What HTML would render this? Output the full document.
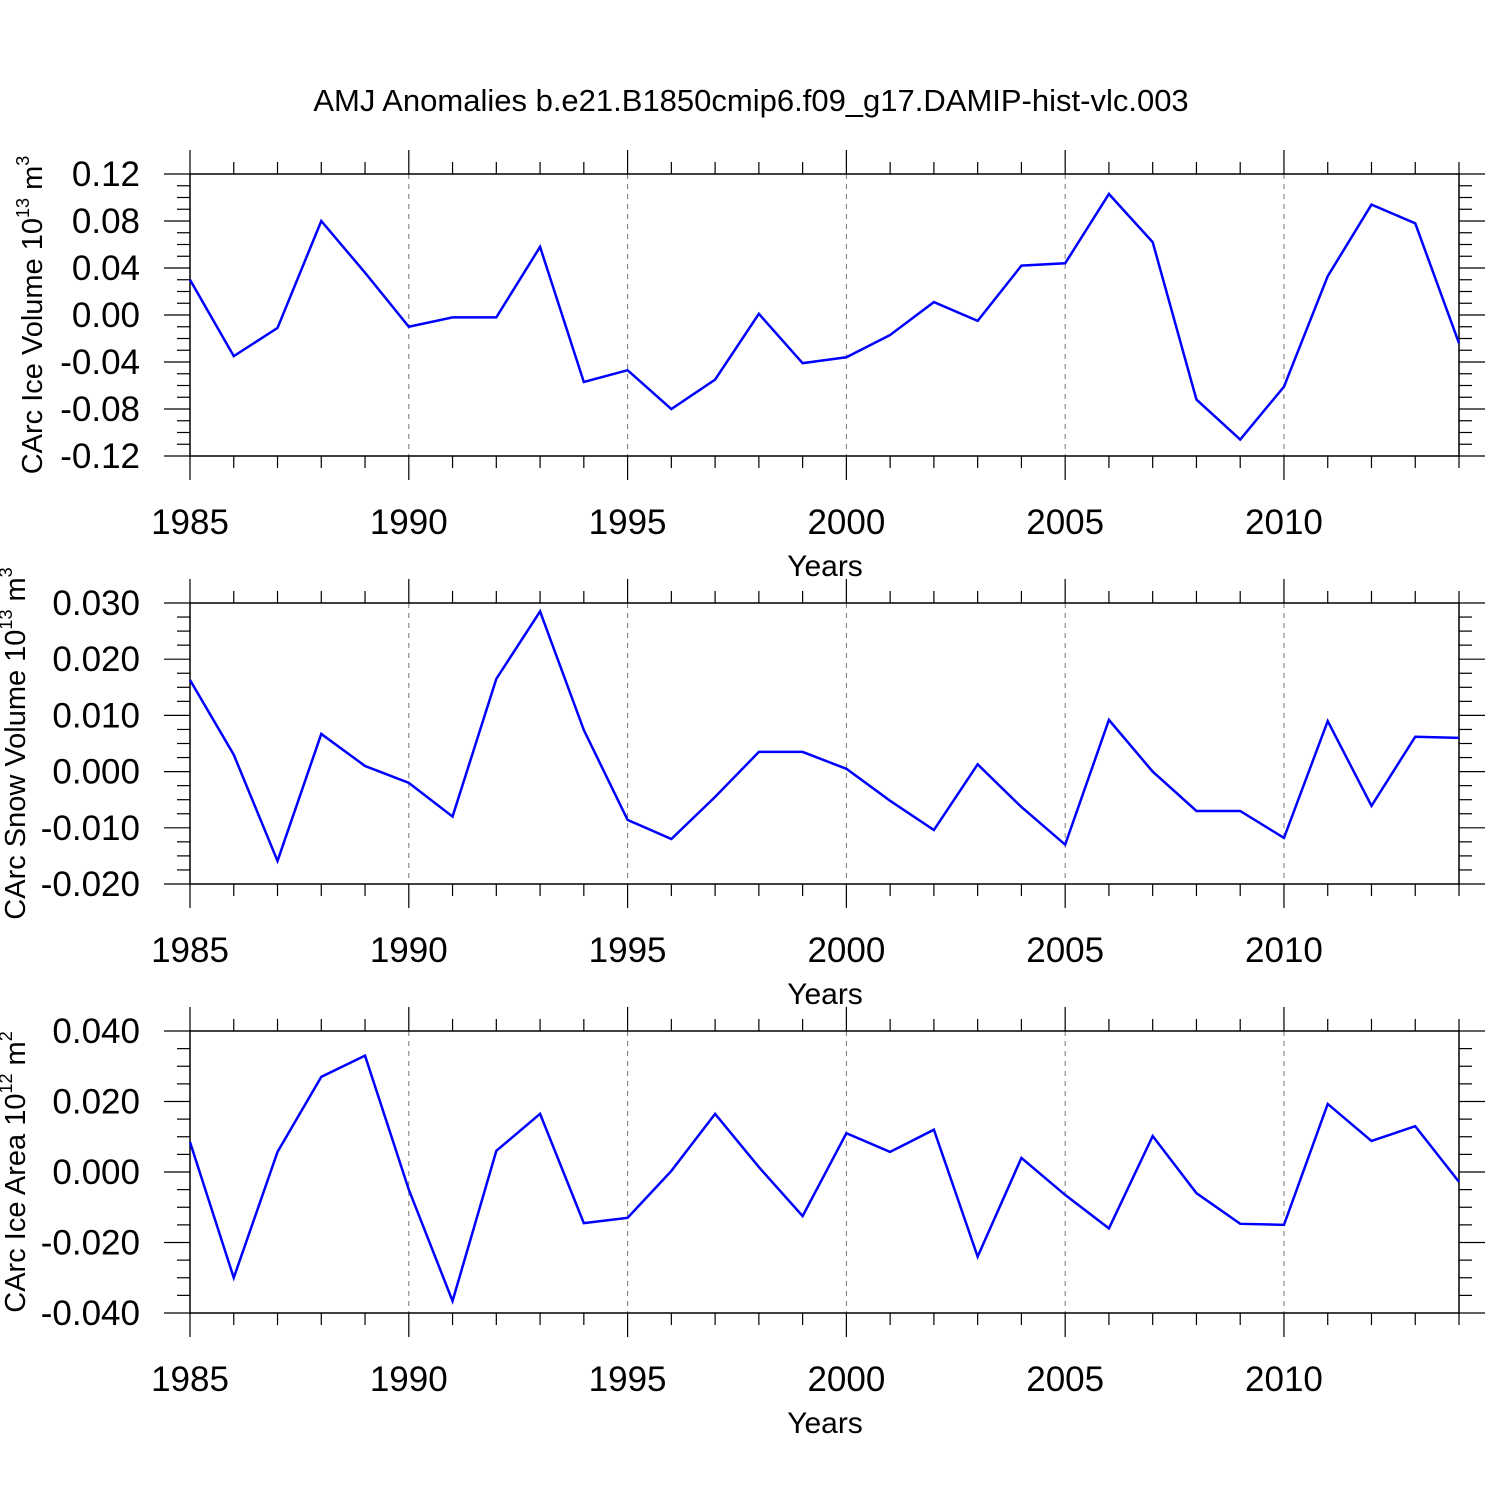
<!DOCTYPE html>
<html><head><meta charset="utf-8"><style>
html,body{margin:0;padding:0;background:#fff}
svg{display:block;font-family:"Liberation Sans",sans-serif}
</style></head><body>
<svg id="chart" width="1500" height="1500" viewBox="0 0 1500 1500" xmlns="http://www.w3.org/2000/svg">
<text x="751" y="111" font-size="31" text-anchor="middle">AMJ Anomalies b.e21.B1850cmip6.f09_g17.DAMIP-hist-vlc.003</text>
</svg>
<script>
const years = [1985,1986,1987,1988,1989,1990,1991,1992,1993,1994,1995,1996,1997,1998,1999,2000,2001,2002,2003,2004,2005,2006,2007,2008,2009,2010,2011,2012,2013,2014];
const iceVolume = [0.030,-0.035,-0.011,0.080,0.036,-0.010,-0.002,-0.002,0.058,-0.057,-0.047,-0.080,-0.055,0.001,-0.041,-0.036,-0.017,0.011,-0.005,0.042,0.044,0.103,0.062,-0.072,-0.106,-0.061,0.033,0.094,0.078,-0.024];
const snowVolume = [0.0163,0.003,-0.0159,0.0067,0.001,-0.002,-0.008,0.0165,0.0285,0.0074,-0.0086,-0.012,-0.0045,0.0035,0.0035,0.0005,-0.0052,-0.0104,0.0013,-0.0063,-0.013,0.0092,0.0,-0.007,-0.007,-0.0118,0.009,-0.0061,0.0062,0.006];
const iceArea = [0.0085,-0.030,0.0057,0.027,0.033,-0.005,-0.0366,0.006,0.0165,-0.0145,-0.013,0.0003,0.0165,0.0014,-0.0125,0.011,0.0057,0.012,-0.024,0.004,-0.0065,-0.016,0.0102,-0.006,-0.0147,-0.015,0.0193,0.0088,0.013,-0.0028];
const xTicks = [1985,1990,1995,2000,2005,2010];
const yTicks1 = ["0.12","0.08","0.04","0.00","-0.04","-0.08","-0.12"];
const yTicks2 = ["0.030","0.020","0.010","0.000","-0.010","-0.020"];
const yTicks3 = ["0.040","0.020","0.000","-0.020","-0.040"];

const NS = "http://www.w3.org/2000/svg";
const svg = document.getElementById('chart');
function mk(tag, attrs, parent){const e=document.createElementNS(NS,tag);for(const k in attrs)e.setAttribute(k,attrs[k]);(parent||svg).appendChild(e);return e;}

const X0=190, X1=1459, XMIN=1985, XMAX=2014;
function xs(v){return X0+(v-XMIN)/(XMAX-XMIN)*(X1-X0);}

function panel(name, top, bot, ymin, ymax, ticks, minorStep, vals, ytitleMain, exp, unitExp, titleX){
  const g = mk('g',{});
  
  
  const ys = v => bot-(v-ymin)/(ymax-ymin)*(bot-top);
  xTicks.slice(1).forEach(t=>{
    const l=mk('line',{x1:xs(t),x2:xs(t),y1:top,y2:bot,stroke:'#777','stroke-width':1,'stroke-dasharray':'5,5'},g);
    
    
  });
  const fr=mk('rect',{x:X0,y:top,width:X1-X0,height:bot-top,fill:'none',stroke:'#000','stroke-width':1.5},g);
  
  
  for(let yr=XMIN; yr<=XMAX; yr++){
    const maj = xTicks.includes(yr);
    const L = maj?24:12;
    mk('line',{x1:xs(yr),x2:xs(yr),y1:top-L,y2:top,stroke:'#000','stroke-width':1.2},g);
    mk('line',{x1:xs(yr),x2:xs(yr),y1:bot,y2:bot+L,stroke:'#000','stroke-width':1.2},g);
  }
  xTicks.forEach(t=>{
    const tx=mk('text',{x:xs(t),y:bot+78,'font-size':35,'text-anchor':'middle'},g);
    tx.textContent=t;
    
    
  });
  const xt=mk('text',{x:825,y:bot+120,'font-size':30,'text-anchor':'middle'},g);
  xt.textContent='Years';
  
  
  const n = Math.round((ymax-ymin)/minorStep);
  const majEvery = Math.round((ymax-ymin)/(ticks.length-1)/minorStep);
  for(let i=0;i<=n;i++){
    const v=ymin+i*minorStep, y=ys(v), maj=(i%majEvery===0), L=maj?26:13;
    mk('line',{x1:X0-L,x2:X0,y1:y,y2:y,stroke:'#000','stroke-width':1.2},g);
    mk('line',{x1:X1,x2:X1+L,y1:y,y2:y,stroke:'#000','stroke-width':1.2},g);
  }
  ticks.forEach(t=>{
    const tx=mk('text',{x:140,y:ys(parseFloat(t))+12,'font-size':35,'text-anchor':'end'},g);
    tx.textContent=t;
    
    
  });
  const cy=(top+bot)/2;
  const yt=mk('text',{x:0,y:0,'font-size':29,'text-anchor':'middle',transform:`translate(${titleX},${cy}) rotate(-90)`},g);
  
  
  const s1=mk('tspan',{},yt); s1.textContent=ytitleMain+' 10';
  const s2=mk('tspan',{dy:-13,'font-size':18},yt); s2.textContent=exp;
  const s3=mk('tspan',{dy:13},yt); s3.textContent=' m';
  const s4=mk('tspan',{dy:-13,'font-size':18},yt); s4.textContent=unitExp;
  const pts = years.map((yr,i)=>xs(yr)+','+ys(vals[i])).join(' ');
  const pl=mk('polyline',{points:pts,fill:'none',stroke:'#0000ff','stroke-width':2.5,'stroke-linejoin':'miter'},g);
  
  
}
panel('ice-volume-panel',174,456,-0.12,0.12,yTicks1,0.01,iceVolume,'CArc Ice Volume','13','3',42);
panel('snow-volume-panel',603,884,-0.02,0.03,yTicks2,0.0025,snowVolume,'CArc Snow Volume','13','3',25);
panel('ice-area-panel',1031,1313,-0.04,0.04,yTicks3,0.005,iceArea,'CArc Ice Area','12','2',25);
</script>
</body></html>
